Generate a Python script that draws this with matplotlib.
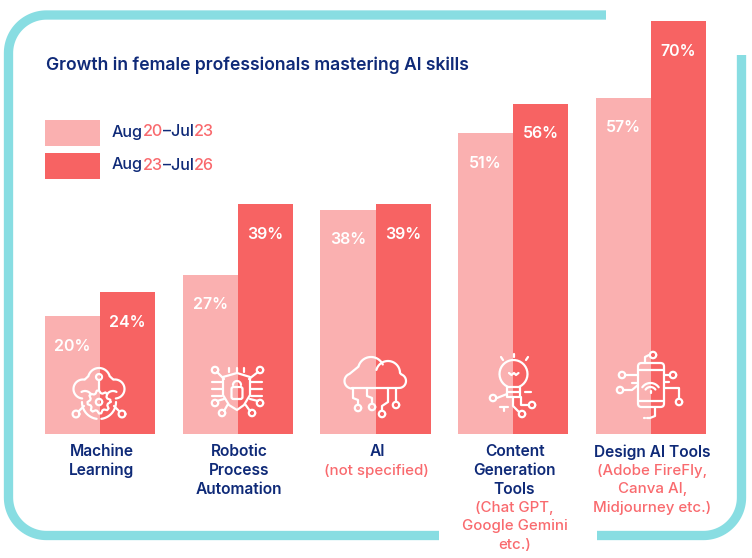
import numpy as np
import matplotlib
matplotlib.use('Agg')
import matplotlib.pyplot as plt
from matplotlib.patches import Rectangle, FancyBboxPatch

plt.rcParams['font.family'] = ['Inter', 'DejaVu Sans']

title = 'Growth in female professionals mastering AI skills'
categories = ['Machine\nLearning', 'Robotic\nProcess\nAutomation', 'AI',
              'Content\nGeneration\nTools', 'Design AI Tools']
notes = ['', '', '(not specified)', '(Chat GPT,\nGoogle Gemini\netc.)',
         '(Adobe FireFly,\nCanva AI,\nMidjourney etc.)']
period1 = [20, 27, 38, 51, 57]
period2 = [24, 39, 39, 56, 70]
legend1 = ['Aug', '20', '–Jul', '23']
legend2 = ['Aug', '23', '–Jul', '26']

LIGHT = '#FAB0B0'
DARK = '#F76363'
NAVY = '#0F2A78'
RED = '#F96A6E'
TEAL = '#88DDE2'

W, H = 752, 558
fig = plt.figure(figsize=(W / 100, H / 100), dpi=100)

# bars, axes box runs from first bar edge to last, 0 to 70
ax = fig.add_axes([45 / W, (H - 434) / H, 661 / W, 413 / H])
ax.set_xlim(-0.4, 4.4)
ax.set_ylim(0, 70)
ax.axis('off')
x = np.arange(len(categories))
ax.bar(x - 0.2, period1, 0.4, color=LIGHT)
ax.bar(x + 0.2, period2, 0.4, color=DARK)

# overlay in pixels for frame, legend and icons
ov = fig.add_axes([0, 0, 1, 1], zorder=3)
ov.set_xlim(0, W)
ov.set_ylim(H, 0)
ov.axis('off')
renderer = fig.canvas.get_renderer()


def arc(cx, cy, r, a1, a2, n=30):
    t = np.radians(np.linspace(a1, a2, n))
    return np.column_stack([cx + r * np.cos(t), cy - r * np.sin(t)])


def line(pts, color='white', lw=1.6, cap='round'):
    pts = np.asarray(pts, dtype=float)
    ov.plot(pts[:, 0], pts[:, 1], color=color, lw=lw, solid_capstyle=cap,
            solid_joinstyle='round')


def ring(cx, cy, r=3.2):
    line(arc(cx, cy, r, 0, 360))


# frame, two open strokes
R = 38
frame_left = np.vstack([[[606, 15]], arc(8.5 + R, 15 + R, R, 90, 180),
                        arc(8.5 + R, 535.5 - R, R, 180, 270), [[439, 535.5]]])
frame_right = np.vstack([[[741.5, 55]], arc(741.5 - R, 535.5 - R, R, 0, -90), [[597, 535.5]]])
line(frame_left, TEAL, 6.7, 'butt')
line(frame_right, TEAL, 6.7, 'butt')

ov.text(46, 65, title, color=NAVY, fontsize=12.65, fontweight='semibold', va='center')

# legend, each piece starts where the text before it ends
for y0, col, parts in [(120, LIGHT, legend1), (153, DARK, legend2)]:
    ov.add_patch(Rectangle((45, y0), 55, 26, color=col, lw=0))
    for j, part in enumerate(parts):
        prefix = ''.join(parts[:j])
        tx = 112
        if prefix:
            probe = ov.text(0, 0, prefix + '.', fontsize=11.6, fontweight='medium')
            dot = ov.text(0, 0, '.', fontsize=11.6, fontweight='medium')
            tx += probe.get_window_extent(renderer).width - dot.get_window_extent(renderer).width
            probe.remove()
            dot.remove()
        ov.text(tx, y0 + 12, part, color=RED if j % 2 else NAVY, fontsize=11.6,
                fontweight='medium', va='center')

# value labels sit a fixed distance under the bar top
for i in x:
    for off, v in [(-0.2, period1[i]), (0.2, period2[i])]:
        ax.annotate(f'{v}%', (i + off, v), xytext=(0, -21.7), textcoords='offset points',
                    color='white', fontsize=11.5, fontweight='semibold', ha='center', va='center')

# category labels, navy first and red note under it
for i in x:
    rows = [(s, NAVY, 'semibold') for s in categories[i].split('\n')]
    if notes[i]:
        rows += [(s, RED, 'medium') for s in notes[i].split('\n')]
    for k, (s, col, wt) in enumerate(rows):
        ax.annotate(s, (i + 0.01, 0), xytext=(0, -12.9 - k * 13.4), textcoords='offset points',
                    color=col, fontsize=11.2 if col == NAVY else 10.8, fontweight=wt,
                    ha='center', va='center', annotation_clip=False)

# icon 1, cloud and gear
line(np.vstack([arc(83, 389, 9.5, 265, 80), arc(99, 379, 11, 165, 15), arc(115, 389, 9.5, 100, -85)]))
ring(99, 377, 3)
line([(99, 380), (99, 390)])
line(arc(99, 402, 17, 180, 262))
line(arc(99, 402, 17, -82, 0))
line(arc(85, 398, 7, 30, 120))
line(arc(113, 398, 7, 60, 150))
teeth = 8
gear_a = np.linspace(0, 360, teeth * 4 + 1)
gear_r = np.append(np.tile([11.5, 11.5, 9, 9], teeth), 11.5)
line(np.column_stack([99 + gear_r * np.cos(np.radians(gear_a)),
                      402 - gear_r * np.sin(np.radians(gear_a))]))
ring(99, 402, 3.2)
ring(76, 414, 3.4)
ring(122, 414, 3.4)
line([(79, 411), (84, 406)])
line([(119, 411), (114, 406)])

# icon 2, shield with lock
line([(223, 377), (237, 373), (250, 377), (250, 395), (244, 405), (237, 410),
      (229, 405), (223, 395), (223, 377)])
ov.add_patch(FancyBboxPatch((231.5, 387), 11, 12, boxstyle='round,pad=0,rounding_size=2',
                            fc='none', ec='white', lw=1.6))
line(arc(237, 385, 4, 0, 180))
for yy in (382, 389, 396):
    line([(212, yy), (222, yy)])
    line([(251, yy), (262, yy)])
for xx in (229, 237, 244):
    line([(xx, 368), (xx, 372)])
for cx, cy, ex, ey in [(215, 370, 224, 379), (260, 370, 249, 379), (215, 403, 224, 399),
                       (260, 403, 250, 399), (222, 413, 228, 404), (252, 413, 245, 404)]:
    ring(cx, cy)
    line([(cx + np.sign(ex - cx) * 2, cy + np.sign(ey - cy) * 2), (ex, ey)])

# icon 3, cloud with circuit
line(np.vstack([[(398, 388)], arc(399, 381, 7, -80, 70), arc(388, 373, 12, 0, 165)]))
line(np.vstack([[(352, 388)], arc(352, 381, 7.5, 270, 110), arc(371, 370, 13, 165, 25)]))
line([(352, 388), (398, 388)])
line([(353, 388), (353, 398), (358, 400), (358, 404)])
line([(367, 388), (367, 396), (372, 398), (372, 403)])
line([(388, 388), (388, 402), (382, 406), (382, 410)])
line([(396, 388), (396, 401)])
ring(358, 408)
ring(372, 407)
ring(382, 414)
ring(396, 405)

# icon 4, bulb
line(np.vstack([[(507, 387)], arc(513.5, 374, 14, 245, -65)]))
line([(520, 387), (507, 387)])
line([(507, 387), (507, 397), (520, 397), (520, 387)])
line([(507, 392), (520, 392)])
line([(509, 373), (511.5, 375), (514, 373), (516, 375), (518.5, 373)])
line([(501, 357), (503, 360)])
line([(513.5, 354), (513.5, 357)])
line([(528, 357), (526, 360)])
ring(493, 398)
ring(532, 405)
ring(522, 414)
line([(497, 398), (507, 394)])
line([(513, 397), (513, 406), (519, 412)])
line([(521, 397), (521, 405), (528, 405)])
line([(500, 407), (508, 407)])
line([(504, 407), (504, 411)])
line([(525, 392), (531, 392)])

# icon 5, phone
ov.add_patch(FancyBboxPatch((638, 363), 26, 44, boxstyle='round,pad=0,rounding_size=3.5',
                            fc='none', ec='white', lw=1.6))
line([(638, 370), (664, 370)])
line([(638, 401), (664, 401)])
for r in (10, 6):
    line(arc(650.5, 393, r, 35, 145))
line([(650.5, 391), (650.5, 393)])
ring(653, 355)
line([(649, 355), (645, 357), (645, 363)])
ring(622, 375)
line([(625, 375), (638, 375)])
ring(620, 390)
line([(624, 390), (632, 390), (638, 385)])
ring(673, 375)
line([(664, 375), (669, 375)])
ring(679, 402)
line([(664, 388), (679, 388), (679, 398)])
line([(632, 383), (638, 383)])
line([(664, 382), (669, 382)])
line([(655, 407), (655, 416), (650, 418), (647, 418)])
line([(644, 418), (644.5, 418)])

fig.savefig('out.png', dpi=100)
